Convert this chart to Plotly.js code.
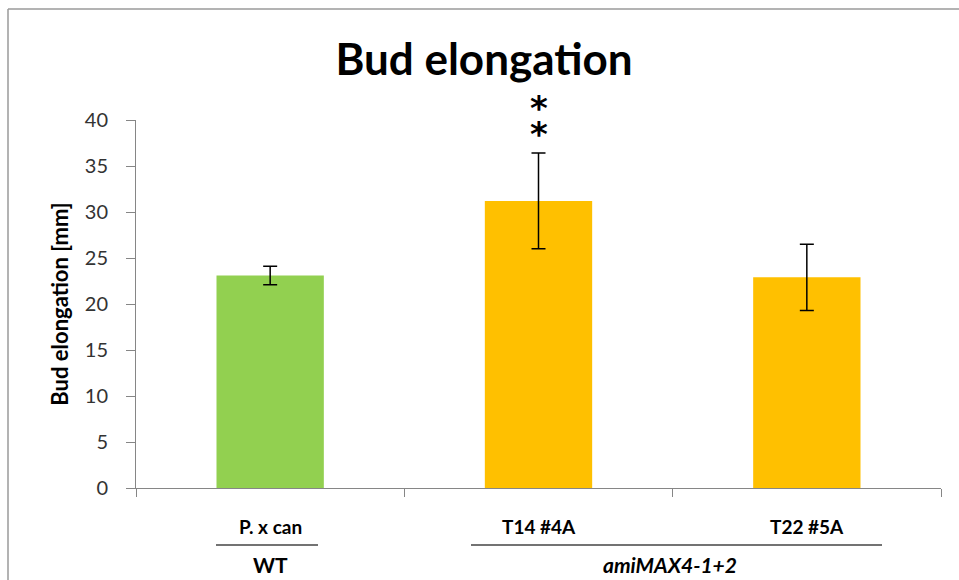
<!DOCTYPE html>
<html><head><meta charset="utf-8">
<script src="https://cdn.plot.ly/plotly-3.0.1.min.js"></script>
<style>body{margin:0;background:#fff}#c{width:959px;height:580px}</style>
</head><body><div id="c"></div>
<script>
const categories = ["P. x can", "T14 #4A", "T22 #5A"];
const values = [23.1, 31.2, 22.9];
const errors = [1.0, 5.2, 3.6];
const colors = ["#92D050", "#FFC000", "#FFC000"];
const groupLabels = ["WT", "amiMAX4-1+2"];
const significance = "**";

const L = 136, R = 941, T = 120, B = 488, W = 959, H = 580;
const px = x => (x - L) / (R - L);
const py = y => (B - y) / (B - T);
const font = "Lato, 'Open Sans', sans-serif";

const trace = {
  type: "bar", x: categories, y: values,
  marker: {color: colors, line: {width: 0}},
  width: 0.4,
  error_y: {type: "data", array: errors, visible: true, color: "#000", thickness: 1.5, width: 7},
  hoverinfo: "skip"
};

const catAnn = categories.map(c => ({
  x: c, y: py(526), xref: "x", yref: "paper", text: "<b>" + c + "</b>", showarrow: false,
  font: {family: font, size: 19, color: "#000"}, yanchor: "middle"
}));

const starText = significance.split("").map(s => '<span style="font-size:34px"><b>' + s + '</b></span>').join("<br>");

const layout = {
  width: W, height: H,
  margin: {l: L, r: W - R, t: T, b: H - B},
  paper_bgcolor: "#fff", plot_bgcolor: "#fff",
  showlegend: false,
  title: {text: "<b>Bud elongation</b>", x: 484 / W, xanchor: "center", y: 1 - 60 / H, yanchor: "middle",
          font: {family: font, size: 44, color: "#000"}},
  xaxis: {type: "category", showline: true, linecolor: "#868686", linewidth: 1,
          ticks: "outside", tickson: "boundaries", ticklen: 8, tickcolor: "#868686",
          showgrid: false, zeroline: false, showticklabels: false, fixedrange: true},
  yaxis: {range: [0, 40], dtick: 5, showline: true, linecolor: "#868686", linewidth: 1,
          ticks: "outside", ticklen: 9, tickcolor: "#868686", showgrid: false, zeroline: false,
          tickfont: {family: font, size: 20, color: "#333"}, ticklabelstandoff: 14,
          title: {text: "<b>Bud elongation [mm]</b>", standoff: 10, font: {family: font, size: 22, color: "#000"}},
          fixedrange: true},
  annotations: catAnn.concat([
    {x: categories[0], y: py(564), xref: "x", yref: "paper", text: "<b>" + groupLabels[0] + "</b>", showarrow: false,
     font: {family: font, size: 21, color: "#000"}, yanchor: "middle"},
    {x: px(670), y: py(564), xref: "paper", yref: "paper", text: "<b><i>" + groupLabels[1] + "</i></b>", showarrow: false,
     font: {family: font, size: 21, color: "#000"}, yanchor: "middle"},
    {x: categories[1], y: py(121), xref: "x", yref: "paper", text: starText, showarrow: false,
     font: {family: "DejaVu Sans", size: 20, color: "#000"}, yanchor: "middle"}
  ]),
  shapes: [
    {type: "line", xref: "paper", yref: "paper", x0: px(216), x1: px(318), y0: py(545), y1: py(545),
     line: {color: "#444", width: 1.5}},
    {type: "line", xref: "paper", yref: "paper", x0: px(471), x1: px(882), y0: py(545), y1: py(545),
     line: {color: "#444", width: 1.5}},
    {type: "line", xref: "paper", yref: "paper", x0: px(8), x1: px(962), y0: py(9), y1: py(9),
     line: {color: "#9a9a9a", width: 1.5}},
    {type: "line", xref: "paper", yref: "paper", x0: px(8), x1: px(8), y0: py(9), y1: py(585),
     line: {color: "#9a9a9a", width: 1.5}}
  ]
};

Plotly.newPlot("c", [trace], layout, {displayModeBar: false, staticPlot: true});
</script></body></html>
